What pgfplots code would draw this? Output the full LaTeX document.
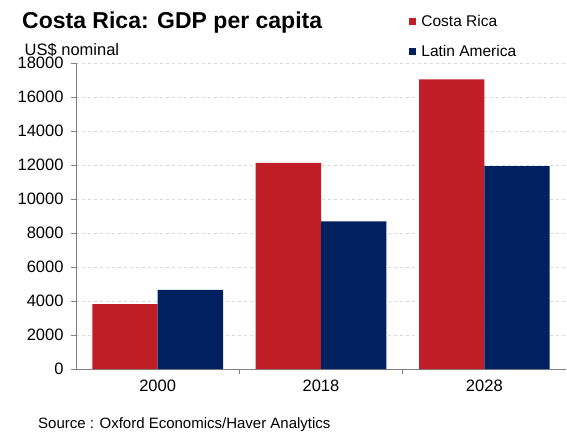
\documentclass[border=0pt]{standalone}
\usepackage{pgfplots}
\pgfplotsset{compat=1.18}
\usepackage{fontspec}
\setmainfont{Liberation Sans}
\definecolor{crred}{RGB}{192,30,38}
\definecolor{lablue}{RGB}{0,32,96}
\definecolor{axgray}{RGB}{128,128,128}
\definecolor{gridgray}{RGB}{217,217,217}
\begin{document}
\begin{tikzpicture}
\path[use as bounding box] (-76pt,-67pt) rectangle (491pt,369pt);
\begin{axis}[
  at={(0pt,0pt)}, anchor=south west,
  scale only axis,
  width=490pt, height=306pt,
  xmin=-0.5, xmax=2.5,
  ymin=0, ymax=18000,
  ytick={0,2000,...,18000},
  scaled y ticks=false,
  /pgf/number format/1000 sep={},
  /pgf/number format/assume math mode=true,
  axis x line*=bottom, axis y line*=left,
  axis line style={draw=axgray, line width=0.9pt, -},
  tick align=outside,
  major tick length=5pt,
  ytick style={draw=axgray, line width=0.9pt},
  xtick={0,1,2},
  xticklabels={2000,2018,2028},
  xtick style={draw=none},
  extra x ticks={0.5,1.5},
  extra x tick labels={},
  extra x tick style={xtick style={draw=axgray, line width=0.9pt}, grid=none},
  ymajorgrids,
  grid style={draw=gridgray, dashed, line width=0.8pt},
  ticklabel style={font=\fontsize{16.5}{20}\selectfont},
  yticklabel style={xshift=-4pt},
  xticklabel style={yshift=-2pt},
  ybar, bar width=0.4,
  legend style={
    at={(axis description cs:0.680,1.162)}, anchor=north west,
    draw=none, fill=none,
    font=\fontsize{15.5}{18}\selectfont,
    row sep=13pt,
    inner sep=0pt,
    cells={anchor=west},
  },
  legend image code/.code={\fill[#1] (0pt,-3.5pt) rectangle (7pt,3.5pt); \path (10pt,0pt);},
]
\addplot[fill=crred, draw=none, bar shift=-0.2] coordinates {(0,3820) (1,12130) (2,17040)};
\addplot[fill=lablue, draw=none, bar shift=0.2] coordinates {(0,4660) (1,8690) (2,11940)};
\legend{Costa Rica, Latin America}
\end{axis}
\node[anchor=base west, inner sep=0pt, font=\bfseries\fontsize{23}{27}\selectfont] at (-54pt,340pt) {Costa Rica: GDP per capita};
\node[anchor=base west, inner sep=0pt, font=\fontsize{16.5}{19}\selectfont] at (-51.5pt,313.5pt) {US\$ nominal};
\node[anchor=base west, inner sep=0pt, font=\fontsize{15}{18}\selectfont] at (-38pt,-59pt) {Source : Oxford Economics/Haver Analytics};
\end{tikzpicture}
\end{document}
